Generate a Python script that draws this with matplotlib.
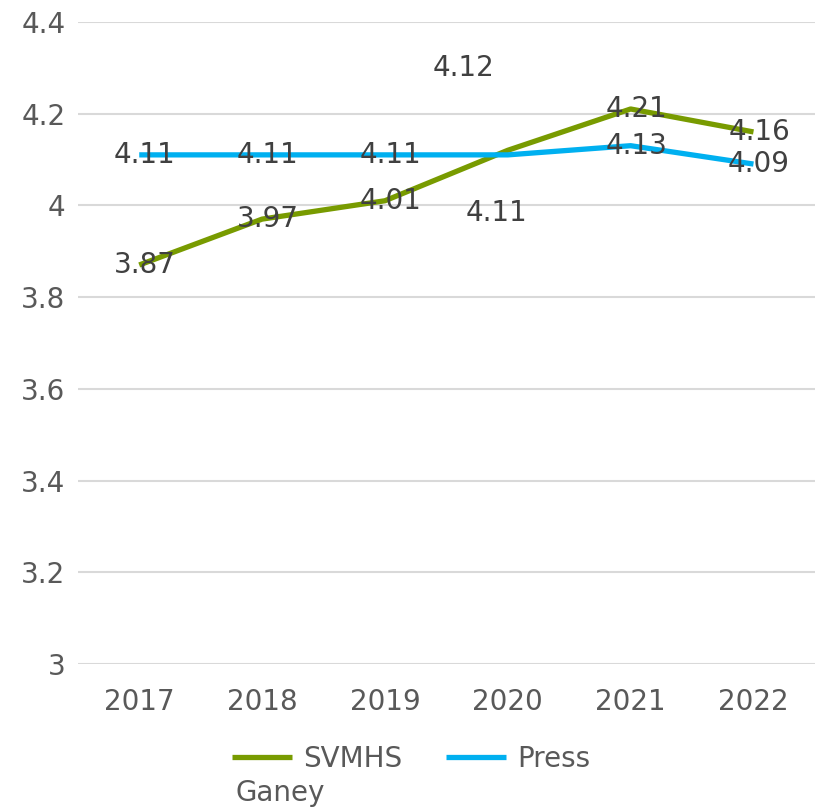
import matplotlib
matplotlib.use("Agg")
import matplotlib.pyplot as plt

plt.rcParams["font.family"] = ["DejaVu Sans"]

years = ["2017", "2018", "2019", "2020", "2021", "2022"]
svmhs = [3.87, 3.97, 4.01, 4.12, 4.21, 4.16]
press_ganey = [4.11, 4.11, 4.11, 4.11, 4.13, 4.09]
y_ticks = [3.0, 3.2, 3.4, 3.6, 3.8, 4.0, 4.2, 4.4]
y_tick_labels = ["3", "3.2", "3.4", "3.6", "3.8", "4", "4.2", "4.4"]

GREEN = "#789B00"
BLUE = "#00B0F0"
GRID = "#D9D9D9"
TICK = "#595959"
LABEL = "#404040"
FS = 20

fig = plt.figure(figsize=(8.19, 8.08), dpi=100)
ax = fig.add_axes([0.095, 0.178, 0.90, 0.795])

x = list(range(len(years)))
l1, = ax.plot(x, svmhs, color=GREEN, lw=3.8, solid_capstyle="butt", zorder=3)
l2, = ax.plot(x, press_ganey, color=BLUE, lw=3.8, solid_capstyle="butt", zorder=3)

# data labels sit a touch right of the point; 2020 labels are pushed off like in the source
offsets_svmhs = {3: (-32, 59)}
offsets_pg = {3: (-8, -42)}
for i, v in enumerate(svmhs):
    dx, dy = offsets_svmhs.get(i, (4, 0))
    ax.annotate(f"{v:.2f}", (i, v), xytext=(dx, dy), textcoords="offset points",
                ha="center", va="center", fontsize=FS, color=LABEL, zorder=4)
for i, v in enumerate(press_ganey):
    dx, dy = offsets_pg.get(i, (4, 0))
    ax.annotate(f"{v:.2f}", (i, v), xytext=(dx, dy), textcoords="offset points",
                ha="center", va="center", fontsize=FS, color=LABEL, zorder=4)

ax.set_xlim(-0.5, len(years) - 0.5)
ax.set_ylim(3.0, 4.4)
ax.set_xticks(x)
ax.set_xticklabels(years)
ax.set_yticks(y_ticks)
ax.set_yticklabels(y_tick_labels)
ax.tick_params(axis="both", length=0, labelsize=FS, labelcolor=TICK)
ax.tick_params(axis="x", pad=17)
ax.tick_params(axis="y", pad=9)
ax.grid(axis="y", color=GRID, lw=1.5)
ax.set_axisbelow(True)
for s in ax.spines.values():
    s.set_visible(False)

leg = fig.legend([l1, l2], ["SVMHS", "Press"], loc="center", ncol=2,
                 bbox_to_anchor=(0.502, 0.061), frameon=False, fontsize=FS,
                 handlelength=2.15, handletextpad=0.4, columnspacing=1.6,
                 labelcolor=TICK)
fig.text(0.287, 0.018, "Ganey", fontsize=FS, color=TICK, ha="left", va="center")

fig.savefig("out.png", dpi=100)
